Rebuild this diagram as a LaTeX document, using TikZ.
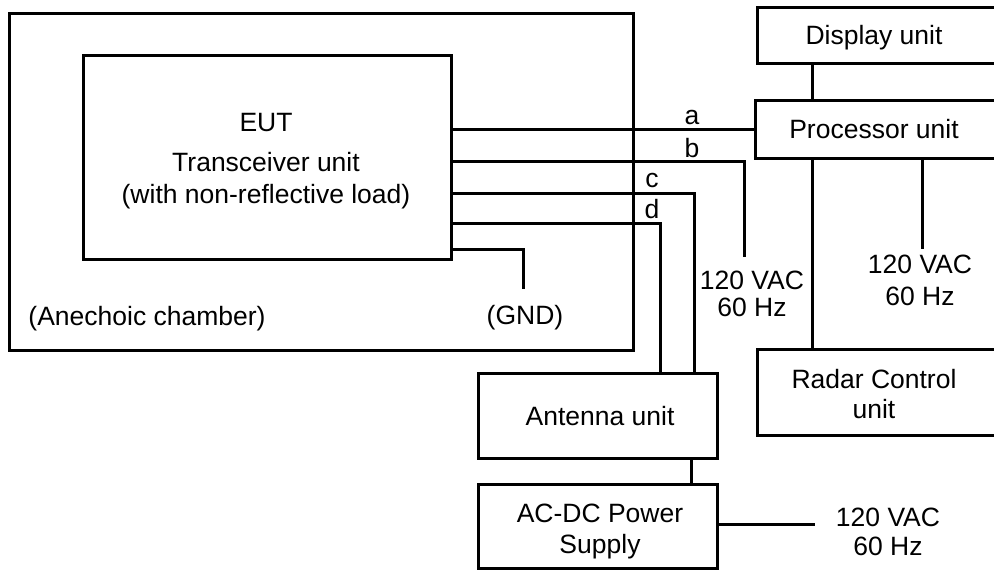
\documentclass[tikz,border=0pt]{standalone}
\usepackage{fontspec}
\setmainfont{Liberation Sans}
\usetikzlibrary{fit}
\begin{document}
\begin{tikzpicture}[x=1pt,y=-1pt, line width=3pt,
  box/.style={draw, inner sep=0pt, rectangle},
  lbl/.style={font=\fontsize{26.5}{30}\selectfont, inner sep=0pt, anchor=base},
  wire/.style={draw, line cap=butt}]
\useasboundingbox (0,0) rectangle (994,570);
\clip (0,0) rectangle (994,570);
% boxes
\node[box, fit={(9,13) (633,350)}] (chamber) {};
\node[box, fit={(83,55) (451,259)}] (eut) {};
\node[box, fit={(757,7) (1000,63)}] (disp) {};
\node[box, fit={(755,100) (1000,158)}] (proc) {};
\node[box, fit={(757,349) (1000,435)}] (radar) {};
\node[box, fit={(478,373) (717,458)}] (ant) {};
\node[box, fit={(478,484) (717,568)}] (psu) {};
% helper coordinates
\coordinate (yb) at (0,161);
\coordinate (yc) at (0,193);
\coordinate (yd) at (0,223);
\coordinate (yg) at (0,249);
\coordinate (bend) at (744,257);
\coordinate (gnd) at (523,289);
\coordinate (cx) at (694,0);
\coordinate (dx) at (660,0);
\coordinate (px) at (812,0);
\coordinate (acx) at (922,0);
\coordinate (acend) at (922,249);
\coordinate (psx) at (691,0);
\coordinate (psend) at (815,524);
% wires
\draw[wire] (eut.east |- proc.west) -- (proc.west);
\draw[wire] (eut.east |- yb) -| (bend);
\draw[wire] (eut.east |- yc) -| (cx |- ant.north);
\draw[wire] (eut.east |- yd) -| (dx |- ant.north);
\draw[wire] (eut.east |- yg) -| (gnd);
\draw[wire] (px |- disp.south) -- (px |- proc.north);
\draw[wire] (px |- proc.south) -- (px |- radar.north);
\draw[wire] (acx |- proc.south) -- (acend);
\draw[wire] (psx |- ant.south) -- (psx |- psu.north);
\draw[wire] (psu.east |- psend) -- (psend);
% labels
\node[lbl] (t-eut) at (266,131) {EUT};
\node[lbl] (t-trx) at (266,171) {Transceiver unit};
\node[lbl] (t-load) at (266,203) {(with non-reflective load)};
\node[lbl] (t-ch) at (147,325) {(Anechoic chamber)};
\node[lbl] (t-gnd) at (525,324) {(GND)};
\node[lbl] (t-a) at (692,124) {a};
\node[lbl] (t-b) at (692,157) {b};
\node[lbl] (t-c) at (652,187) {c};
\node[lbl] (t-d) at (652,218) {d};
\node[lbl] (t-ac1a) at (752,289) {120 VAC};
\node[lbl] (t-ac1b) at (752,316) {60 Hz};
\node[lbl] (t-ac2a) at (920,273) {120 VAC};
\node[lbl] (t-ac2b) at (920,305) {60 Hz};
\node[lbl] (t-ac3a) at (888,526) {120 VAC};
\node[lbl] (t-ac3b) at (888,555) {60 Hz};
\node[lbl] (t-disp) at (874,45) {Display unit};
\node[lbl] (t-proc) at (874,138) {Processor unit};
\node[lbl] (t-rad1) at (874,388) {Radar Control};
\node[lbl] (t-rad2) at (874,418) {unit};
\node[lbl] (t-ant) at (600,425) {Antenna unit};
\node[lbl] (t-psu1) at (600,522) {AC-DC Power};
\node[lbl] (t-psu2) at (600,553) {Supply};
\end{tikzpicture}
\end{document}
